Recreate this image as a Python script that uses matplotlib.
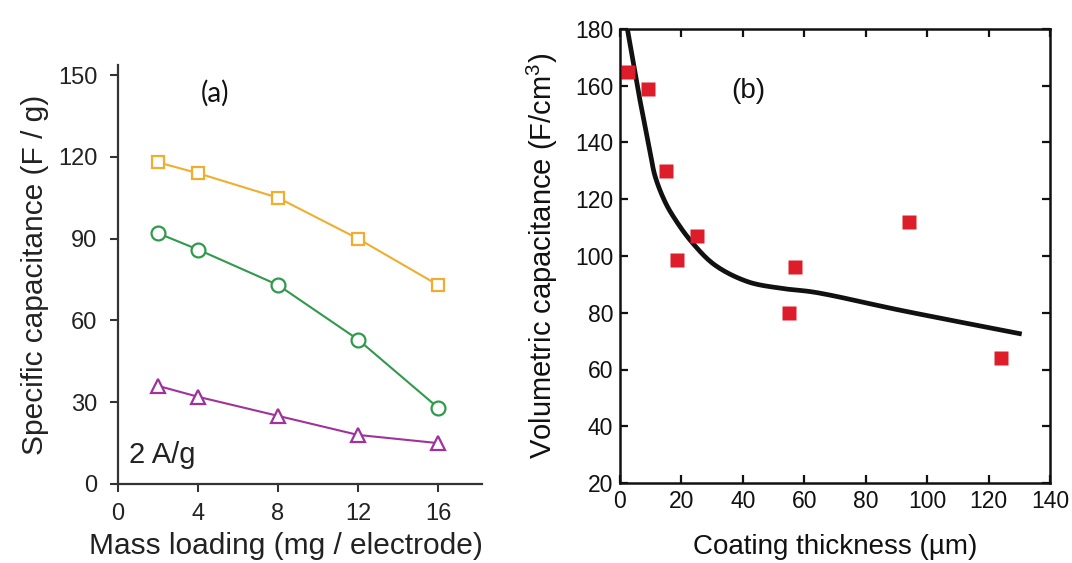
import matplotlib
matplotlib.use("Agg")
import numpy as np
import matplotlib.pyplot as plt

# ---- Panel (a) data ----
mass_loading = [2, 4, 8, 12, 16]
cap_square = [118, 114, 105, 90, 73]
cap_circle = [92, 86, 73, 53, 28]
cap_triangle = [36, 32, 25, 18, 15]
a_xticks = [0, 4, 8, 12, 16]
a_yticks = [0, 30, 60, 90, 120, 150]

# ---- Panel (b) data ----
thickness = [2.5, 9.2, 14.9, 18.5, 25, 55, 57, 94, 124]
vol_cap = [165, 159, 130, 98.5, 107, 80, 96, 112, 64]
fit_x = [2.4, 4.3, 6, 8.1, 9.8, 11.4, 14.7, 17.9, 23.3, 30.9, 41.7, 52.6, 63.5, 91.2, 130.8]
fit_y = [180, 168.3, 157.8, 146, 136.7, 128.2, 119, 113, 105, 96.8, 90.9, 88.6, 87.2, 80.9, 72.5]
b_xticks = [0, 20, 40, 60, 80, 100, 120, 140]
b_yticks = [20, 40, 60, 80, 100, 120, 140, 160, 180]

plt.rcParams['font.family'] = ['Liberation Sans', 'DejaVu Sans']
plt.rcParams['mathtext.fontset'] = 'custom'
plt.rcParams['mathtext.rm'] = 'Liberation Sans'

W, H = 1072, 563
fig = plt.figure(figsize=(W / 100, H / 100), dpi=100)

def rect(l, t, r, b):
    return [l / W, 1 - b / H, (r - l) / W, (b - t) / H]

def smooth_path(xs, ys, n=20):
    """Centripetal Catmull-Rom rendering of a smooth line through the points."""
    P = np.column_stack([xs, ys]).astype(float)
    P = np.vstack([2 * P[0] - P[1], P, 2 * P[-1] - P[-2]])
    out = []
    for i in range(1, len(P) - 2):
        p0, p1, p2, p3 = P[i - 1], P[i], P[i + 1], P[i + 2]
        def tj(ti, a, b):
            return ti + np.linalg.norm(b - a) ** 0.5
        t0 = 0.0
        t1 = tj(t0, p0, p1)
        t2 = tj(t1, p1, p2)
        t3 = tj(t2, p2, p3)
        t = np.linspace(t1, t2, n)[:, None]
        A1 = (t1 - t) / (t1 - t0) * p0 + (t - t0) / (t1 - t0) * p1
        A2 = (t2 - t) / (t2 - t1) * p1 + (t - t1) / (t2 - t1) * p2
        A3 = (t3 - t) / (t3 - t2) * p2 + (t - t2) / (t3 - t2) * p3
        B1 = (t2 - t) / (t2 - t0) * A1 + (t - t0) / (t2 - t0) * A2
        B2 = (t3 - t) / (t3 - t1) * A2 + (t - t1) / (t3 - t1) * A3
        C = (t2 - t) / (t2 - t1) * B1 + (t - t1) / (t2 - t1) * B2
        out.append(C if i == 1 else C[1:])
    C = np.vstack(out)
    return C[:, 0], C[:, 1]

txt = '#222222'

# ---- Panel (a) ----
ax1 = fig.add_axes(rect(118, 65, 482, 484))
ax1.plot(mass_loading, cap_square, '-s', color='#F0AE2E', lw=1.5, ms=9,
         mfc='white', mec='#F0AE2E', mew=1.6)
ax1.plot(mass_loading, cap_circle, '-o', color='#2F9A4C', lw=1.5, ms=10,
         mfc='white', mec='#2F9A4C', mew=1.6)
ax1.plot(mass_loading, cap_triangle, '-^', color='#A0329C', lw=1.5, ms=10,
         mfc='white', mec='#A0329C', mew=1.6)
ax1.set_xlim(0, 18.2)
ax1.set_ylim(0, 153.7)
ax1.set_xticks(a_xticks)
ax1.set_yticks(a_yticks)
for s in ['top', 'right']:
    ax1.spines[s].set_visible(False)
for s in ['left', 'bottom']:
    ax1.spines[s].set_linewidth(1.6)
    ax1.spines[s].set_color('#333333')
ax1.tick_params(direction='out', length=6, width=1.5, colors='#333333',
                labelsize=17, labelcolor=txt)
ax1.tick_params(axis='y', pad=9)
ax1.tick_params(axis='x', pad=8)
ax1.set_xlabel('Mass loading (mg / electrode)', fontsize=21.5, color=txt)
ax1.xaxis.set_label_coords(0.462, -0.115)
ax1.set_ylabel('Specific capacitance (F / g)', fontsize=21.5, color=txt, labelpad=6)
ax1.text(4.85, 143.5, '(a)', fontsize=20, family=['Lato', 'DejaVu Sans'],
         color='#111111', ha='center', va='center')
ax1.text(0.55, 10.5, '2 A/g', fontsize=21, color=txt, ha='left', va='center')

# ---- Panel (b) ----
ax2 = fig.add_axes(rect(620, 29, 1050, 483))
sx, sy = smooth_path(fit_x, fit_y)
ax2.plot(sx, sy, '-', color='#111111', lw=3.4, solid_capstyle='butt',
         solid_joinstyle='round')
ax2.plot(thickness, vol_cap, 's', color='#DD1E2A', ms=10.5, mec='none', ls='none')
ax2.set_xlim(0, 140)
ax2.set_ylim(20, 180)
ax2.set_xticks(b_xticks)
ax2.set_yticks(b_yticks)
for s in ax2.spines.values():
    s.set_linewidth(1.8)
    s.set_color('#111111')
ax2.tick_params(direction='in', length=6, width=1.6, top=True, right=True,
                labelsize=16.5, colors='#111111', pad=5)
ax2.set_xlabel('Coating thickness (\u00b5m)', fontsize=20, color='#111111', labelpad=15)
ax2.set_ylabel('Volumetric capacitance (F/cm$^{\\mathregular{3}}$)', fontsize=21,
               color='#111111', labelpad=11)
ax2.text(41.7, 158, '(b)', fontsize=20, color='#111111', ha='center', va='center')

fig.savefig('out.png', dpi=100)
